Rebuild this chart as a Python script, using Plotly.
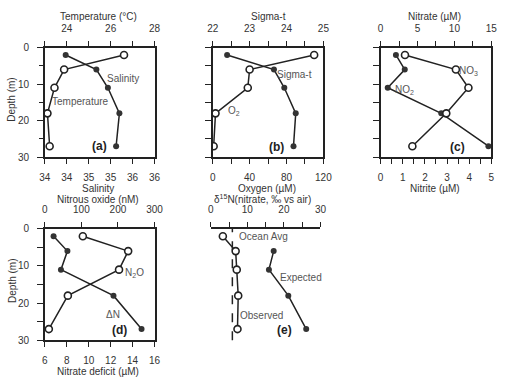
import plotly.graph_objects as go

# ---------------- data ----------------
depth = [2, 6, 11, 18, 27]
salinity = [34.38, 34.94, 35.15, 35.36, 35.30]
temperature = [26.61, 23.88, 23.44, 23.12, 23.22]
sigma_t = [22.39, 23.66, 23.94, 24.25, 24.19]
oxygen = [110, 40, 38, 3, 1]
nitrate = [3.3, 10.2, 11.9, 8.9, 4.3]
nitrite = [0.69, 1.09, 0.32, 2.74, 4.87]
n2o = [104, 228, 203, 63, 11]
n_deficit = [6.8, 8.06, 7.47, 12.26, 14.82]
d15n_observed = [3.3, 6.8, 7.1, 7.5, 7.3]
depth_expected = [6, 11, 18, 27]
d15n_expected = [17.2, 15.9, 21.2, 26.1]
ocean_avg = 5.9
salinity_ticks = [34.0, 34.4, 34.8, 35.2, 35.6, 36.0]
salinity_ticktext = ["34", "34", "35", "35", "36", "36"]

W, H = 510, 384
FONT = "Liberation Sans, Arial, sans-serif"
LINE = "#222222"
TXT = "#333333"
ANN = "#555555"


def px(x, y):
    return x / W, 1 - y / H


def dom(x0, x1, y0, y1):
    return [x0 / W, x1 / W], [1 - y1 / H, 1 - y0 / H]


fig = go.Figure()


def series(x, y, xa, ya, filled):
    if filled:
        marker = dict(symbol="circle", size=6, color="#333333",
                      line=dict(width=0))
    else:
        marker = dict(symbol="circle", size=7, color="white",
                      line=dict(width=1.6, color=LINE))
    fig.add_trace(go.Scatter(x=x, y=y, xaxis=xa, yaxis=ya,
                             mode="lines+markers",
                             line=dict(color=LINE, width=1.5),
                             marker=marker, showlegend=False,
                             hoverinfo="skip"))


# panel a
series(salinity, depth, "x", "y", True)
series(temperature, depth, "x2", "y", False)
# panel b
series(sigma_t, depth, "x4", "y2", True)
series(oxygen, depth, "x3", "y2", False)
# panel c
series(nitrite, depth, "x5", "y3", True)
series(nitrate, depth, "x6", "y3", False)
# panel d
series(n_deficit, depth, "x7", "y4", True)
series(n2o, depth, "x8", "y4", False)
# panel e
series(d15n_expected, depth_expected, "x10", "y5", True)
series(d15n_observed, depth, "x10", "y5", False)

panels = {
    "a": dom(40, 153, 43, 156),
    "b": dom(213, 327, 43, 156),
    "c": dom(386, 500, 43, 156),
    "d": dom(40, 153, 230, 345),
    "e": dom(211, 324, 230, 345),
}

tickfont = dict(family=FONT, size=10, color=TXT)


def xax(domain, anchor, rng, side, dtick=None, minor=None,
        tickvals=None, ticktext=None, overlay=None, show=True):
    d = dict(domain=domain, anchor=anchor, range=rng, side=side,
             showline=True, linecolor=LINE, linewidth=1.5,
             ticks="outside" if show else "", ticklen=5, tickwidth=1.3,
             tickcolor=LINE, showgrid=False, zeroline=False,
             showticklabels=show, tickfont=tickfont,
             ticklabelstandoff=5 if side == "top" else 5)
    if dtick is not None:
        d["tick0"] = rng[0]
        d["dtick"] = dtick
    if tickvals is not None:
        d["tickmode"] = "array"
        d["tickvals"] = tickvals
        d["ticktext"] = ticktext
    if minor is not None:
        d["minor"] = dict(dtick=minor, ticks="outside", ticklen=5,
                          tickwidth=1.3, tickcolor=LINE, showgrid=False)
    if overlay:
        d["overlaying"] = overlay
    return d


def yax(domain, anchor, labels):
    d = dict(domain=domain, anchor=anchor, range=[30, 0],
             showline=True, linecolor=LINE, linewidth=1.5, mirror=True,
             ticks="outside", tickwidth=1.3, tickcolor=LINE,
             showgrid=False, zeroline=False, tickfont=tickfont,
             showticklabels=labels, ticklabelstandoff=6)
    if labels:
        d.update(dtick=10, tick0=0, ticklen=6,
                 minor=dict(dtick=5, ticks="outside", ticklen=4,
                            tickwidth=1.3, tickcolor=LINE, showgrid=False))
    else:
        d.update(dtick=5, tick0=0, ticklen=6)
    return d


ax, ay = panels["a"]
bx, by = panels["b"]
cx, cy = panels["c"]
dx, dy = panels["d"]
ex, ey = panels["e"]

fig.update_layout(
    width=W, height=H, margin=dict(l=0, r=0, t=0, b=0),
    paper_bgcolor="white", plot_bgcolor="white",
    font=dict(family=FONT, size=10, color=TXT),
    xaxis=xax(ax, "y", [34, 36], "bottom",
              tickvals=salinity_ticks, ticktext=salinity_ticktext),
    xaxis2=xax(ax, "y", [23, 28], "top",
               tickvals=[24, 26, 28], ticktext=["24", "26", "28"],
               minor=1, overlay="x"),
    yaxis=yax(ay, "x", True),
    xaxis3=xax(bx, "y2", [0, 120], "bottom", dtick=40, minor=20),
    xaxis4=xax(bx, "y2", [22, 25], "top", dtick=1, minor=0.5,
               overlay="x3"),
    yaxis2=yax(by, "x3", False),
    xaxis5=xax(cx, "y3", [0, 5], "bottom", dtick=1, minor=0.5),
    xaxis6=xax(cx, "y3", [0, 15], "top", dtick=5, minor=2.5,
               overlay="x5"),
    yaxis3=yax(cy, "x5", False),
    xaxis7=xax(dx, "y4", [6, 16], "bottom", dtick=2),
    xaxis8=xax(dx, "y4", [0, 300], "top", dtick=100, overlay="x7"),
    yaxis4=yax(dy, "x7", True),
    xaxis9=xax(ex, "y5", [0, 30], "bottom", show=False),
    xaxis10=xax(ex, "y5", [0, 30], "top", dtick=10, minor=5,
                overlay="x9"),
    yaxis5=yax(ey, "x9", False),
)

fig.add_shape(type="line", xref="x10", yref="y5 domain",
              x0=ocean_avg, x1=ocean_avg, y0=0, y1=1,
              line=dict(color=LINE, width=1.5, dash="dash"))

# axis titles (text, x, y, angle)
axis_titles = [
    ("Temperature (°C)", 95, 11, 0),
    ("Salinity", 95, 188, 0),
    ("Sigma-t", 270, 11, 0),
    ("Oxygen (µM)", 269, 188, 0),
    ("Nitrate (µM)", 441, 11, 0),
    ("Nitrite (µM)", 442, 188, 0),
    ("Nitrous oxide (nM)", 95, 200, 0),
    ("Nitrate deficit (µM)", 95, 377, 0),
    ("δ<sup>15</sup>N(nitrate, ‰ vs air)", 264, 199, 0),
    ("Depth (m)", 6, 97, -90),
    ("Depth (m)", 6, 284, -90),
]
for text, x, y, ang in axis_titles:
    xx, yy = px(x, y)
    fig.add_annotation(
        x=xx, y=yy, xref="paper", yref="paper", showarrow=False,
        text=text, textangle=ang,
        font=dict(family=FONT, size=10, color=TXT),
        xanchor="center", yanchor="middle")

labels = [
    ("Salinity", 121, 75, False),
    ("Temperature", 77, 99, False),
    ("(a)", 96, 144, True),
    ("Sigma-t", 297, 71, False),
    ("O<sub>2</sub>", 235, 108, False),
    ("(b)", 279, 146, True),
    ("NO<sub>3</sub>", 477, 67, False),
    ("NO<sub>2</sub>", 411, 87, False),
    ("(c)", 465, 146, True),
    ("N<sub>2</sub>O", 132, 276, False),
    ("ΔN", 110, 318, False),
    ("(d)", 117, 334, True),
    ("Ocean Avg", 265, 238, False),
    ("Expected", 304, 280, False),
    ("Observed", 263, 319, False),
    ("(e)", 287, 334, True),
]
for text, x, y, bold in labels:
    xx, yy = px(x, y)
    fig.add_annotation(
        x=xx, y=yy, xref="paper", yref="paper", showarrow=False,
        text=f"<b>{text}</b>" if bold else text,
        font=dict(family=FONT, size=12 if bold else 10,
                  color="#222222" if bold else ANN),
        xanchor="center", yanchor="middle")

fig.write_html("out.html")
